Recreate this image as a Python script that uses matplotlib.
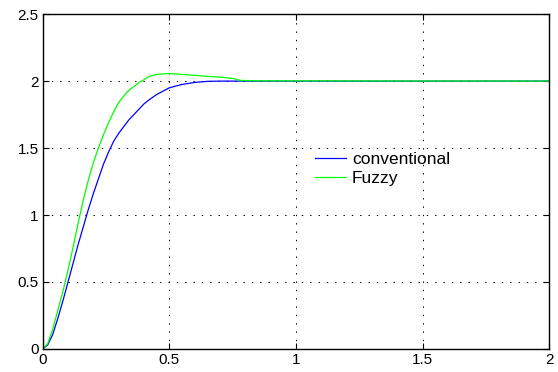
import matplotlib
matplotlib.use("Agg")
import matplotlib.pyplot as plt

t_conv = [0, 0.02, 0.04, 0.06, 0.08, 0.10, 0.12, 0.14, 0.16, 0.18, 0.20, 0.22, 0.24, 0.26,
          0.28, 0.30, 0.32, 0.34, 0.36, 0.38, 0.40, 0.42, 0.45, 0.50, 0.55, 0.60, 0.65, 0.70, 2.0]
y_conv = [0, 0.03, 0.11, 0.23, 0.36, 0.50, 0.64, 0.78, 0.91, 1.04, 1.16, 1.27, 1.38, 1.47,
          1.55, 1.61, 1.66, 1.71, 1.75, 1.79, 1.83, 1.86, 1.90, 1.95, 1.975, 1.99, 1.998, 2.0, 2.0]

t_fuzzy = [0, 0.02, 0.04, 0.06, 0.08, 0.10, 0.12, 0.14, 0.16, 0.18, 0.20, 0.22, 0.24, 0.26,
           0.28, 0.30, 0.32, 0.34, 0.36, 0.38, 0.40, 0.42, 0.45, 0.50, 0.55, 0.60, 0.65, 0.70,
           0.75, 0.78, 0.85, 2.0]
y_fuzzy = [0, 0.04, 0.15, 0.29, 0.43, 0.59, 0.76, 0.94, 1.11, 1.26, 1.39, 1.50, 1.60, 1.69,
           1.77, 1.84, 1.89, 1.93, 1.96, 1.99, 2.01, 2.035, 2.05, 2.057, 2.05, 2.043, 2.035, 2.03,
           2.02, 2.005, 2.002, 2.0]

xticks = [0, 0.5, 1, 1.5, 2]
yticks = [0, 0.5, 1, 1.5, 2, 2.5]
xtick_labels = ["0", "0.5", "1", "1.5", "2"]
ytick_labels = ["0", "0.5", "1", "1.5", "2", "2.5"]

plt.rcParams['font.family'] = ['Liberation Sans', 'DejaVu Sans']

fig = plt.figure(figsize=(5.58, 3.72), dpi=100)
ax = fig.add_axes([0.0765, 0.062, 0.908, 0.9])

ax.plot(t_conv, y_conv, color=(0, 0, 1), lw=0.9, label="conventional")
ax.plot(t_fuzzy, y_fuzzy, color=(0, 1, 0), lw=0.9, label="Fuzzy")

ax.set_xlim(0, 2)
ax.set_ylim(0, 2.5)
ax.set_xticks(xticks)
ax.set_xticklabels(xtick_labels)
ax.set_yticks(yticks)
ax.set_yticklabels(ytick_labels)
ax.tick_params(direction='in', length=4, width=0.8, top=True, right=True,
               labelsize=11, colors='black', pad=3)
for s in ax.spines.values():
    s.set_linewidth(1.0)
ax.grid(True, color='black', linestyle=(0, (1.3, 6.7)), linewidth=0.75)

leg = ax.legend(loc='upper left', bbox_to_anchor=(0.513, 0.625), frameon=False,
                fontsize=12.5, handlelength=1.8, handletextpad=0.35, labelspacing=0.25,
                borderpad=0.2)

fig.savefig("out.png", dpi=100)
